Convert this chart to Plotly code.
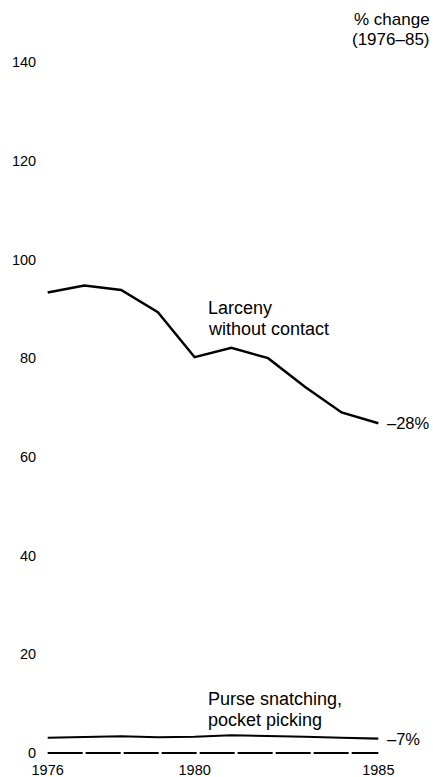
import plotly.graph_objects as go

# ---- data ----
years = [1976, 1977, 1978, 1979, 1980, 1981, 1982, 1983, 1984, 1985]
larceny_without_contact = [93.3, 94.7, 93.8, 89.3, 80.2, 82.1, 80.0, 74.2, 69.0, 66.8]
purse_snatching = [3.1, 3.2, 3.4, 3.2, 3.3, 3.6, 3.5, 3.3, 3.1, 2.9]
baseline = [0, 0, 0, 0, 0, 0, 0, 0, 0, 0]
pct_change = ["\u201328%", "\u20137%"]
x_tick_vals = [1976, 1980, 1985]
x_tick_text = ["1976", "1980", "1985"]
y_tick_vals = [0, 20, 40, 60, 80, 100, 120, 140]
y_tick_text = ["0", "20", "40", "60", "80", "100", "120", "140"]

FONT = "Liberation Sans, Arial, Helvetica, sans-serif"

fig = go.Figure()

fig.add_trace(go.Scatter(
    x=years, y=baseline, mode="lines",
    line=dict(color="black", width=2, dash="35px,3px"),
    hoverinfo="skip", showlegend=False))

fig.add_trace(go.Scatter(
    x=years, y=larceny_without_contact, mode="lines",
    line=dict(color="black", width=2.5),
    name="Larceny without contact", showlegend=False))

fig.add_trace(go.Scatter(
    x=years, y=purse_snatching, mode="lines",
    line=dict(color="black", width=2.2),
    name="Purse snatching, pocket picking", showlegend=False))

annotations = []
# series labels (each line separately for tight line spacing)
for text, yv in [("Larceny", 90.15), ("without contact", 85.95),
                 ("Purse snatching,", 10.9), ("pocket picking", 6.7)]:
    annotations.append(dict(x=1980.3, y=yv, text=text, showarrow=False,
                            xanchor="left", yanchor="middle",
                            font=dict(size=18, color="black", family=FONT)))
# end-of-line % change labels
annotations.append(dict(x=years[-1], y=larceny_without_contact[-1], text=pct_change[0],
                        showarrow=False, xanchor="left", yanchor="middle", xshift=7,
                        font=dict(size=16.5, color="black", family=FONT)))
annotations.append(dict(x=years[-1], y=purse_snatching[-1], text=pct_change[1],
                        showarrow=False, xanchor="left", yanchor="middle", xshift=7,
                        font=dict(size=16.5, color="black", family=FONT)))
# header
annotations.append(dict(xref="paper", yref="paper", x=1, y=1, xshift=50, yshift=54,
                        text="% change", showarrow=False, xanchor="right", yanchor="top",
                        font=dict(size=17, color="black", family=FONT)))
annotations.append(dict(xref="paper", yref="paper", x=1, y=1, xshift=50, yshift=34.5,
                        text="(1976\u201385)", showarrow=False, xanchor="right", yanchor="top",
                        font=dict(size=17, color="black", family=FONT)))

fig.update_layout(
    width=433, height=777,
    margin=dict(l=44, r=51, t=62, b=21),
    paper_bgcolor="white", plot_bgcolor="white",
    font=dict(family=FONT, size=14.5, color="black"),
    showlegend=False,
    annotations=annotations,
    xaxis=dict(range=[1975.9, 1985.1], tickvals=x_tick_vals, ticktext=x_tick_text,
               showgrid=False, zeroline=False, showline=False,
               ticks="outside", ticklen=1, tickcolor="rgba(0,0,0,0)",
               automargin=False,
               tickfont=dict(size=14.5, family=FONT, color="black")),
    yaxis=dict(range=[-0.6, 140], tickvals=y_tick_vals, ticktext=y_tick_text,
               showgrid=False, zeroline=False, showline=False,
               ticks="outside", ticklen=4, tickcolor="rgba(0,0,0,0)",
               automargin=False,
               tickfont=dict(size=14.5, family=FONT, color="black")),
)

fig.write_html(
    "out.html",
    config={"displayModeBar": False},
    post_script="document.body.style.margin='0';document.body.style.padding='0';"
                "document.documentElement.style.overflow='hidden';",
)
